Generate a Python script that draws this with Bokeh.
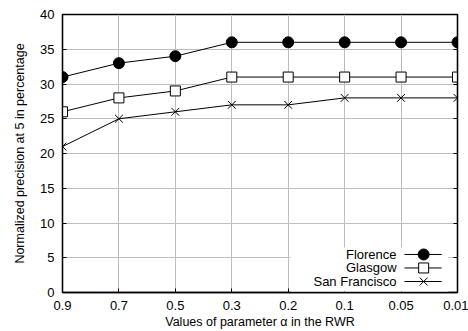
from bokeh.plotting import figure
from bokeh.models import FixedTicker, LinearAxis, Label, BoxAnnotation, Range1d, CustomJSTickFormatter
from bokeh.embed import file_html
from bokeh.resources import INLINE

alphas = ["0.9", "0.7", "0.5", "0.3", "0.2", "0.1", "0.05", "0.01"]
florence = [31, 33, 34, 36, 36, 36, 36, 36]
glasgow = [26, 28, 29, 31, 31, 31, 31, 31]
sanfran = [21, 25, 26, 27, 27, 28, 28, 28]
series_names = ["Florence", "Glasgow", "San Francisco"]
y_ticks = [0, 5, 10, 15, 20, 25, 30, 35, 40]

xs = list(range(len(alphas)))
FONT = "Liberation Sans"

p = figure(width=468, height=331, output_backend="svg", toolbar_location=None,
           x_range=Range1d(0, len(alphas) - 1), y_range=Range1d(0, 40),
           min_border_left=62, min_border_right=11, min_border_top=14, min_border_bottom=39)
p.outline_line_color = "black"
p.outline_line_width = 1.3

p.xaxis.ticker = FixedTicker(ticks=xs)
p.xaxis.major_label_overrides = {i: a for i, a in enumerate(alphas)}
p.yaxis.ticker = FixedTicker(ticks=y_ticks)
for ax in (p.xaxis, p.yaxis):
    ax.major_tick_in = 4
    ax.major_tick_out = 0
    ax.minor_tick_line_color = None
    ax.axis_line_color = "black"
    ax.axis_line_width = 1.3
    ax.major_label_text_font = FONT
    ax.major_label_text_font_size = "13px"
    ax.major_label_text_color = "black"
    ax.axis_label_text_font = FONT
    ax.axis_label_text_font_size = "12.5px"
    ax.axis_label_text_font_style = "normal"
    ax.axis_label_text_color = "black"
p.xaxis.axis_label = "Values of parameter α in the RWR"
p.yaxis.axis_label = "Normalized precision at 5 in percentage"
p.xaxis.major_label_standoff = 8
p.yaxis.major_label_standoff = 8
p.xaxis.axis_label_standoff = 2
p.yaxis.axis_label_standoff = 10

for g in (p.xgrid, p.ygrid):
    g.grid_line_color = "#bdbdbd"
    g.grid_line_width = 1

ra = LinearAxis(ticker=FixedTicker(ticks=y_ticks), formatter=CustomJSTickFormatter(code="return ''"),
                major_tick_in=4, major_tick_out=0, minor_tick_line_color=None,
                axis_line_color="black", axis_line_width=1.3, major_label_standoff=0)
p.add_layout(ra, "right")

p.line(xs, florence, line_color="black", line_width=1)
p.scatter(xs, florence, marker="circle", size=11, fill_color="black", line_color="black")
p.line(xs, glasgow, line_color="black", line_width=1)
p.scatter(xs, glasgow, marker="square", size=10, fill_color="white", line_color="black", line_width=1)
p.line(xs, sanfran, line_color="black", line_width=1)
p.scatter(xs, sanfran, marker="x", size=11, line_color="black", line_width=1)

# legend (text right-aligned, sample on the right), white box over the grid
box = BoxAnnotation(left=4.04, right=6.84, bottom=0.15, top=6.47,
                    fill_color="white", fill_alpha=1, line_color=None)
p.add_layout(box)
legend_y = [5.47, 3.53, 1.58]
x0, x1, xm, xt = 6.06, 6.72, 6.40, 5.92
specs = [("circle", 11, "black"), ("square", 10, "white"), ("x", 11, None)]
for name, ly, (mk, sz, fc) in zip(series_names, legend_y, specs):
    p.line([x0, x1], [ly, ly], line_color="black", line_width=1, level="overlay")
    if fc is None:
        p.scatter([xm], [ly], marker=mk, size=sz, line_color="black", level="overlay")
    else:
        p.scatter([xm], [ly], marker=mk, size=sz, fill_color=fc, line_color="black", level="overlay")
    p.add_layout(Label(x=xt, y=ly, text=name, text_align="right", text_baseline="middle",
                       text_font=FONT, text_font_size="13px", text_color="black"))

open("out.html", "w").write(file_html(p, INLINE))
